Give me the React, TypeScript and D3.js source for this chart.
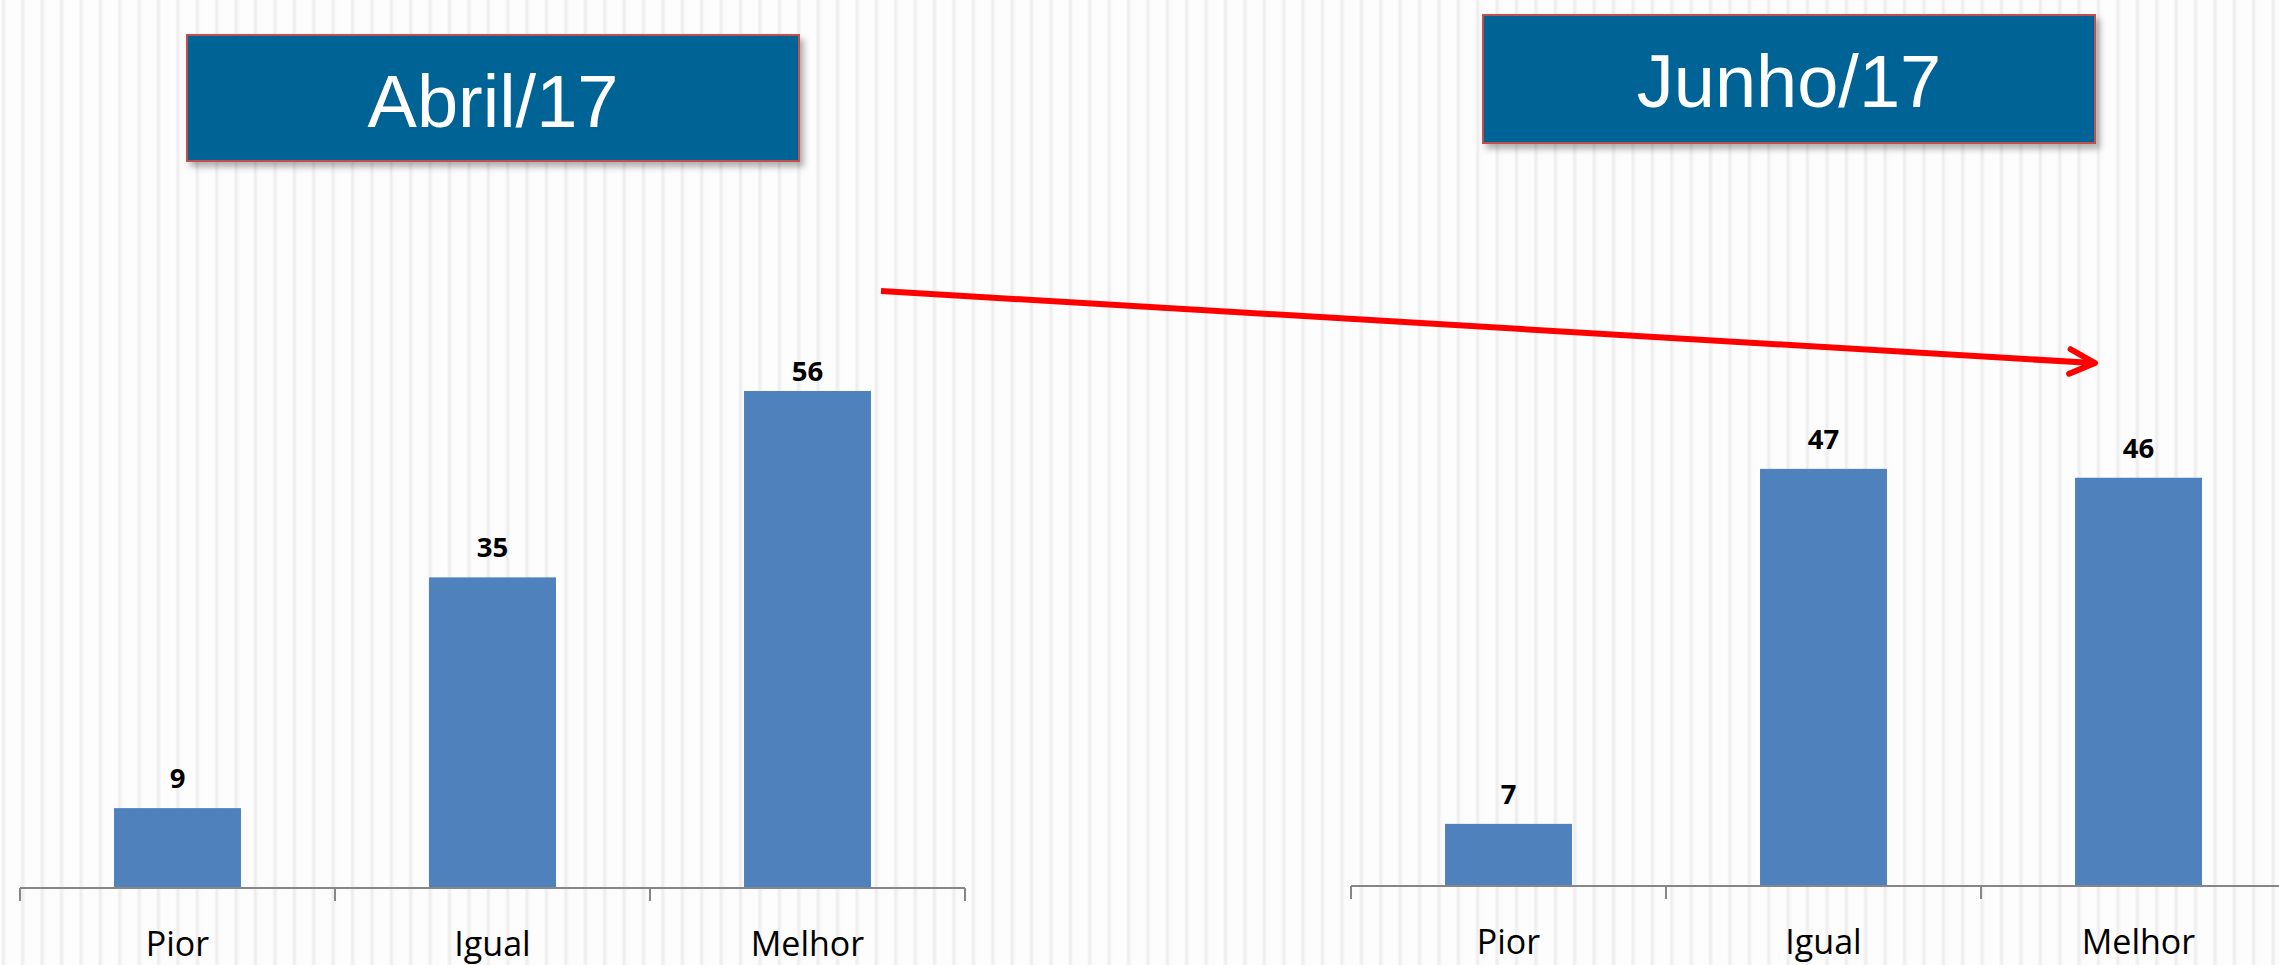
import { useEffect, useRef } from "react";
import * as d3 from "d3";

// Survey data, two periods
const categories = ["Pior", "Igual", "Melhor"];
const titles = ["Abril/17", "Junho/17"];
const abrilValues = [9, 35, 56];
const junhoValues = [7, 47, 46];

const WIDTH = 2279;
const HEIGHT = 965;
const BAR_COLOR = "#4f81bd";
const TITLE_FILL = "#006496";
const TITLE_STROKE = "#c0504d";

// layout of the two small charts
const PANELS = [
  { values: abrilValues, left: 20, axisY: 888, box: { x: 187, y: 35, w: 612, h: 126 } },
  { values: junhoValues, left: 1351, axisY: 886, box: { x: 1483, y: 15, w: 612, h: 128 } },
];
const STEP = 315;
const PLOT_H = 532.5;
const Y_MAX = 60;

export default function App() {
  const svgRef = useRef<SVGSVGElement>(null);

  useEffect(() => {
    if (!svgRef.current) return;
    const svg = d3.select(svgRef.current);
    svg.selectAll("*").remove();
    svg.attr("width", WIDTH).attr("height", HEIGHT);

    const defs = svg.append("defs");

    // striped background
    const grad = defs
      .append("linearGradient")
      .attr("id", "stripe-grad")
      .attr("x1", "0%")
      .attr("x2", "100%")
      .attr("y1", "0%")
      .attr("y2", "0%");
    grad.append("stop").attr("offset", "0%").attr("stop-color", "#fcfcfc");
    grad.append("stop").attr("offset", "5%").attr("stop-color", "#f2f2f2");
    grad.append("stop").attr("offset", "12%").attr("stop-color", "#ececec");
    grad.append("stop").attr("offset", "20%").attr("stop-color", "#f5f5f5");
    grad.append("stop").attr("offset", "28%").attr("stop-color", "#fcfcfc");
    grad.append("stop").attr("offset", "100%").attr("stop-color", "#fdfdfd");

    const pattern = defs
      .append("pattern")
      .attr("id", "stripes")
      .attr("patternUnits", "userSpaceOnUse")
      .attr("x", 1)
      .attr("y", 0)
      .attr("width", 19.4)
      .attr("height", 20);
    pattern
      .append("rect")
      .attr("width", 19.4)
      .attr("height", 20)
      .attr("fill", "url(#stripe-grad)");

    svg
      .append("rect")
      .attr("width", WIDTH)
      .attr("height", HEIGHT)
      .attr("fill", "url(#stripes)");

    const shadow = defs
      .append("filter")
      .attr("id", "box-shadow")
      .attr("x", "-10%")
      .attr("y", "-10%")
      .attr("width", "120%")
      .attr("height", "130%");
    shadow
      .append("feDropShadow")
      .attr("dx", 4)
      .attr("dy", 5)
      .attr("stdDeviation", 3)
      .attr("flood-color", "#000")
      .attr("flood-opacity", 0.3);

    const y = d3.scaleLinear().domain([0, Y_MAX]).range([PLOT_H, 0]);

    PANELS.forEach((panel, pi) => {
      const g = svg
        .append("g")
        .attr("transform", `translate(${panel.left},${panel.axisY - PLOT_H})`);

      const edges = d3
        .scaleBand<string>()
        .domain(categories)
        .range([0, STEP * categories.length])
        .padding(0);
      const x = d3
        .scaleBand<string>()
        .domain(categories)
        .range([0, STEP * categories.length])
        .paddingInner(0.597)
        .paddingOuter(0.597 / 2);

      // bars
      g.selectAll("rect.bar")
        .data(panel.values)
        .join("rect")
        .attr("class", "bar")
        .attr("x", (_, i) => x(categories[i]) as number)
        .attr("width", x.bandwidth())
        .attr("y", (d) => y(d))
        .attr("height", (d) => PLOT_H - y(d))
        .attr("fill", BAR_COLOR);

      // value labels (pushed inside plot area near the top, like Excel)
      g.selectAll("text.value")
        .data(panel.values)
        .join("text")
        .attr("class", "value")
        .attr("x", (_, i) => (x(categories[i]) as number) + x.bandwidth() / 2)
        .attr("y", (d) => Math.max(y(d) - 20, 25))
        .attr("text-anchor", "middle")
        .attr("font-family", "'Open Sans', sans-serif")
        .attr("font-weight", 700)
        .attr("font-size", 27.5)
        .attr("fill", "#000")
        .text((d) => d);

      // category axis
      const axisG = g.append("g").attr("transform", `translate(0,${PLOT_H})`);
      axisG
        .append("line")
        .attr("x1", 0)
        .attr("x2", STEP * categories.length)
        .attr("stroke", "#868686")
        .attr("stroke-width", 2);
      const tickXs = [...categories.map((c) => edges(c) as number), STEP * categories.length];
      axisG
        .selectAll("line.tick")
        .data(tickXs)
        .join("line")
        .attr("class", "tick")
        .attr("x1", (d) => d)
        .attr("x2", (d) => d)
        .attr("y1", 0)
        .attr("y2", 13)
        .attr("stroke", "#868686")
        .attr("stroke-width", 2);
      axisG
        .selectAll("text")
        .data(categories)
        .join("text")
        .attr("x", (d) => (edges(d) as number) + edges.bandwidth() / 2)
        .attr("y", 68)
        .attr("text-anchor", "middle")
        .attr("font-family", "'Open Sans', sans-serif")
        .attr("font-size", 34)
        .attr("fill", "#000")
        .text((d) => d);

      // title box
      const b = panel.box;
      svg
        .append("rect")
        .attr("x", b.x)
        .attr("y", b.y)
        .attr("width", b.w)
        .attr("height", b.h)
        .attr("fill", TITLE_FILL)
        .attr("stroke", TITLE_STROKE)
        .attr("stroke-width", 2)
        .attr("filter", "url(#box-shadow)");
      svg
        .append("text")
        .attr("x", b.x + b.w / 2)
        .attr("y", b.y + 92)
        .attr("text-anchor", "middle")
        .attr("font-family", "'Liberation Sans', Arial, sans-serif")
        .attr("font-size", 74)
        .attr("fill", "#fff")
        .text(titles[pi]);
    });

    // red arrow annotation
    const start: [number, number] = [881, 291];
    const tip: [number, number] = [2095, 363];
    const ang = Math.atan2(tip[1] - start[1], tip[0] - start[0]);
    const armLen = 28;
    const armAng = (26 * Math.PI) / 180;
    const arrow = svg
      .append("g")
      .attr("stroke", "#ff0000")
      .attr("stroke-width", 6)
      .attr("fill", "none")
      .attr("stroke-linecap", "round")
      .attr("stroke-linejoin", "round");
    arrow
      .append("line")
      .attr("x1", start[0])
      .attr("y1", start[1])
      .attr("x2", tip[0] - 2)
      .attr("y2", tip[1])
      .attr("stroke-linecap", "butt");
    const arm = (sign: number): [number, number] => [
      tip[0] - armLen * Math.cos(ang + sign * armAng),
      tip[1] - armLen * Math.sin(ang + sign * armAng),
    ];
    arrow
      .append("path")
      .attr("d", d3.line()([arm(1), tip, arm(-1)]));
  }, []);

  return (
    <div style={{ position: "absolute", left: 0, top: 0, width: WIDTH, height: HEIGHT, overflow: "hidden" }}>
      <svg ref={svgRef} style={{ display: "block" }} />
    </div>
  );
}
